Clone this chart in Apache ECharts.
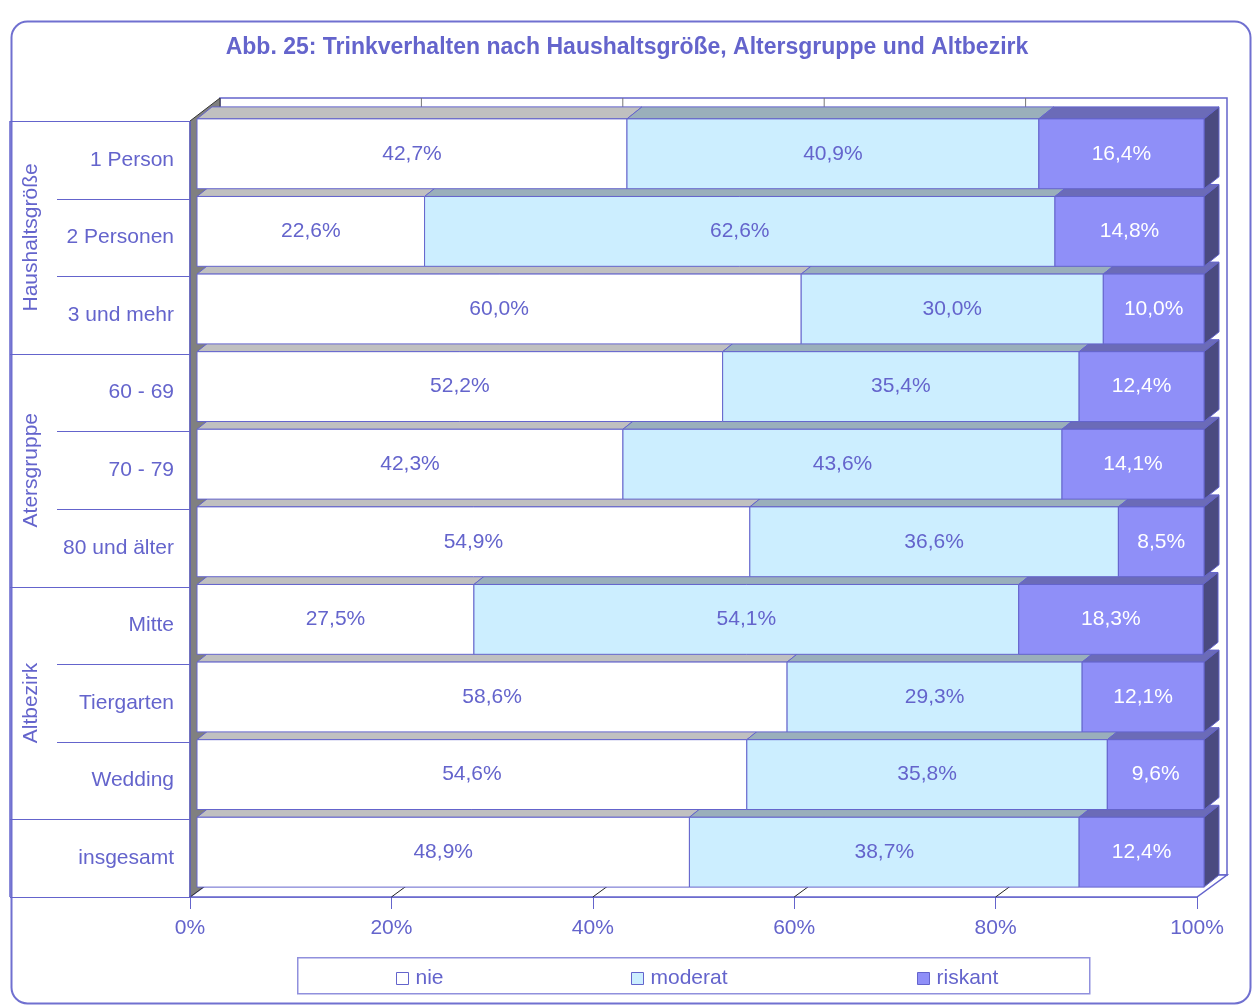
<!DOCTYPE html>
<html>
<head>
<meta charset="utf-8">
<script src="https://cdn.jsdelivr.net/npm/echarts@6/dist/echarts.min.js"></script>
<style>
  html, body { margin: 0; padding: 0; background: #fff; }
  #main { width: 1254px; height: 1005px; }
</style>
</head>
<body>
<div id="main"></div>
<script>
// Daten
const kategorien = ['1 Person', '2 Personen', '3 und mehr', '60 - 69', '70 - 79', '80 und älter', 'Mitte', 'Tiergarten', 'Wedding', 'insgesamt'];
const nie = [42.7, 22.6, 60.0, 52.2, 42.3, 54.9, 27.5, 58.6, 54.6, 48.9];
const moderat = [40.9, 62.6, 30.0, 35.4, 43.6, 36.6, 54.1, 29.3, 35.8, 38.7];
const riskant = [16.4, 14.8, 10.0, 12.4, 14.1, 8.5, 18.3, 12.1, 9.6, 12.4];
const gruppen = ['Haushaltsgröße', 'Atersgruppe', 'Altbezirk'];
const gruppenStart = [0, 3, 6, 9]; // letzte Grenze: insgesamt
const xTicks = [0, 20, 40, 60, 80, 100];

const blau = '#6464cc';
const schrift = 'Liberation Sans, Arial, sans-serif';
const FS = 21;
const N = kategorien.length;

// 3D-Versatz
const BAR_DX = 7, BAR_DY = -6;      // Balken in der Tiefe
const TIEFE_X = 15, TIEFE_Y = -12;  // Balkentiefe
const WAND_X = 30, WAND_Y = -22;    // Rückwand

const fmt = v => v.toFixed(1).replace('.', ',') + '%';

const reihen = [
  { name: 'nie', werte: nie, front: '#ffffff', oben: '#c0c0c0', text: blau },
  { name: 'moderat', werte: moderat, front: '#cceeff', oben: '#9aafbb', text: blau },
  { name: 'riskant', werte: riskant, front: '#8f8ff8', oben: '#6b6bb8', seite: '#4a4a80', text: '#ffffff' }
];

// Start/Ende je Segment aus den Werten
function segmente(idx) {
  return kategorien.map((k, i) => {
    let start = 0;
    for (let j = 0; j < idx; j++) start += reihen[j].werte[i];
    const w = reihen[idx].werte[i];
    return [start, start + w, i, w];
  });
}

function balkenRender(r, letzte) {
  return function (params, api) {
    const row = api.value(2);
    const p0 = api.coord([api.value(0), row]);
    const p1 = api.coord([api.value(1), row]);
    const h = api.size([0, 1])[1] * 0.9;
    const l = p0[0] + BAR_DX, rr = p1[0] + BAR_DX;
    const t = p0[1] + BAR_DY - h / 2, b = t + h;
    const zb = (N - row) * 10;
    const kids = [
      {
        type: 'polygon', z2: zb + 1,
        shape: { points: [[l, t], [rr, t], [rr + TIEFE_X, t + TIEFE_Y], [l + TIEFE_X, t + TIEFE_Y]] },
        style: { fill: r.oben, stroke: blau, lineWidth: 1 }
      },
      {
        type: 'rect', z2: zb + 3,
        shape: { x: l, y: t, width: rr - l, height: h },
        style: { fill: r.front, stroke: blau, lineWidth: 1 }
      },
      {
        type: 'text', z2: 1000,
        style: {
          x: (l + rr) / 2, y: t + h / 2, text: fmt(api.value(3)),
          fill: r.text, font: FS + 'px ' + schrift, align: 'center', verticalAlign: 'middle'
        }
      }
    ];
    if (letzte) {
      kids.push({
        type: 'polygon', z2: zb + 2,
        shape: { points: [[rr, t], [rr + TIEFE_X, t + TIEFE_Y], [rr + TIEFE_X, b + TIEFE_Y], [rr, b]] },
        style: { fill: r.seite, stroke: blau, lineWidth: 1 }
      });
    }
    return { type: 'group', children: kids };
  };
}

// Wände, Boden, Tabelle links
function dekoRender(params, api) {
  const cs = params.coordSys;
  const X0 = cs.x, X1 = cs.x + cs.width, Y0 = cs.y, Y1 = cs.y + cs.height;
  const kids = [];
  kids.push({
    type: 'rect', shape: { x: X0 + WAND_X, y: Y0 + WAND_Y - 1, width: X1 - X0, height: Y1 - Y0 + 1 },
    style: { fill: '#fff', stroke: blau, lineWidth: 1.5 }
  });
  xTicks.slice(1, -1).forEach(v => {
    const x = api.coord([v, 0])[0] + WAND_X;
    kids.push({ type: 'line', shape: { x1: x, y1: Y0 + WAND_Y - 1, x2: x, y2: Y1 + WAND_Y }, style: { stroke: '#777', lineWidth: 1 } });
  });
  kids.push({
    type: 'polygon', shape: { points: [[X0, Y1], [X1, Y1], [X1 + WAND_X, Y1 + WAND_Y], [X0 + WAND_X, Y1 + WAND_Y]] },
    style: { fill: '#fff', stroke: blau, lineWidth: 1.5 }
  });
  xTicks.slice(1, -1).forEach(v => {
    const x = api.coord([v, 0])[0];
    kids.push({ type: 'line', shape: { x1: x, y1: Y1, x2: x + WAND_X, y2: Y1 + WAND_Y }, style: { stroke: '#222', lineWidth: 1 } });
  });
  kids.push({
    type: 'polygon', shape: { points: [[X0, Y0], [X0 + WAND_X, Y0 + WAND_Y - 1], [X0 + WAND_X, Y1 + WAND_Y], [X0, Y1]] },
    style: { fill: '#808080', stroke: '#333', lineWidth: 1 }
  });
  kids.push({ type: 'line', shape: { x1: X0, y1: Y0, x2: X0, y2: Y1 }, style: { stroke: blau, lineWidth: 1.5 } });

  // Tabelle links
  const lx = 10, gx = 57;
  const voll = gruppenStart.concat([N]);
  kids.push({ type: 'line', shape: { x1: lx, y1: Y0, x2: lx, y2: Y1 }, style: { stroke: blau, lineWidth: 1.5 } });
  for (let k = 0; k <= N; k++) {
    const y = Math.round(Y0 + k * cs.height / N) + 0.5;
    const x1 = voll.indexOf(k) >= 0 ? lx : gx;
    kids.push({ type: 'line', shape: { x1: x1, y1: y, x2: X0, y2: y }, style: { stroke: blau, lineWidth: 1 } });
  }
  gruppen.forEach((g, i) => {
    const yc = Y0 + (gruppenStart[i] + gruppenStart[i + 1]) / 2 * cs.height / N;
    kids.push({
      type: 'text', x: 31, y: yc, rotation: Math.PI / 2,
      style: { x: 0, y: 0, text: g, fill: blau, font: FS + 'px ' + schrift, align: 'center', verticalAlign: 'middle' }
    });
  });
  return { type: 'group', children: kids };
}

const chart = echarts.init(document.getElementById('main'));

const legenden = reihen.map((r, i) => ({
  data: [r.name],
  left: [391, 626, 912][i],
  top: 963,
  itemWidth: 12,
  itemHeight: 12,
  icon: 'rect',
  selectedMode: false,
  itemStyle: { color: r.front, borderColor: blau, borderWidth: 1 },
  textStyle: { fontSize: FS, color: blau, fontFamily: schrift, padding: [0, 0, 0, 2] }
}));

const option = {
  animation: false,
  textStyle: { fontFamily: schrift },
  title: {
    text: 'Abb. 25: Trinkverhalten nach Haushaltsgröße, Altersgruppe und Altbezirk',
    left: 'center',
    top: 31,
    textStyle: { fontSize: 23, fontWeight: 'bold', color: blau, fontFamily: schrift }
  },
  graphic: [
    {
      type: 'rect', left: 9, top: 19, z: -10,
      shape: { width: 1239, height: 982, r: 16 },
      style: { fill: 'none', stroke: '#7070d0', lineWidth: 2 }
    },
    {
      type: 'rect', left: 297, top: 957, z: -10,
      shape: { width: 792, height: 36 },
      style: { fill: '#fff', stroke: '#9090dd', lineWidth: 1.5 }
    }
  ],
  legend: legenden,
  grid: { left: 190, top: 121, width: 1007, height: 776 },
  xAxis: {
    type: 'value', min: 0, max: 100, interval: 20,
    axisLine: { show: true, lineStyle: { color: blau, width: 1.5 } },
    axisTick: { show: true, length: 12, lineStyle: { color: blau } },
    axisLabel: { formatter: '{value}%', fontSize: FS, color: blau, margin: 21 },
    splitLine: { show: false }
  },
  yAxis: {
    type: 'category', inverse: true, data: kategorien,
    axisLine: { show: false }, axisTick: { show: false },
    axisLabel: { fontSize: FS, color: blau, margin: 16 },
    splitLine: { show: false }
  },
  series: [
    {
      type: 'custom', name: 'deko', z: 1, clip: false, silent: true,
      data: [[0, 0]], encode: { x: 0, y: 1 },
      renderItem: dekoRender
    }
  ].concat(reihen.map((r, i) => ({
    type: 'custom', name: r.name, z: 2, clip: false,
    itemStyle: { color: r.front, borderColor: blau, borderWidth: 1 },
    data: segmente(i),
    encode: { x: [0, 1], y: 2 },
    renderItem: balkenRender(r, i === reihen.length - 1)
  })))
};

chart.setOption(option);
</script>
</body>
</html>
